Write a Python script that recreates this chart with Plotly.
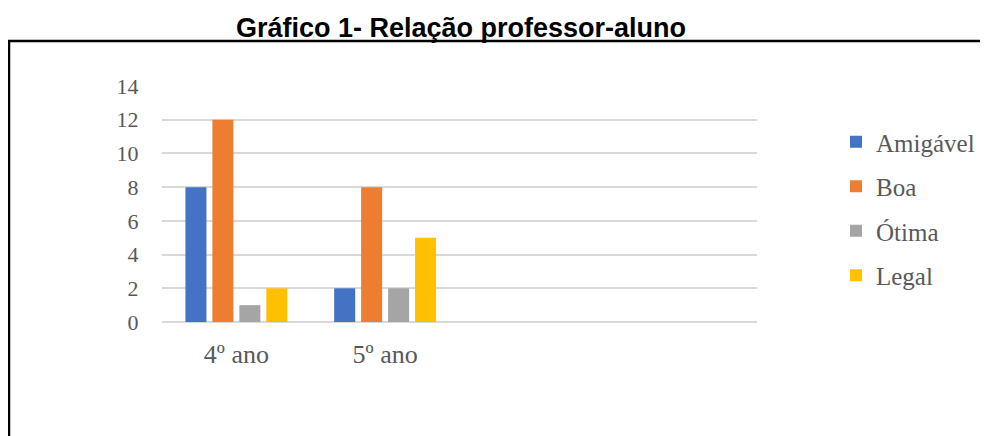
import plotly.graph_objects as go

categories = ["4º ano", "5º ano"]
series_names = ["Amigável", "Boa", "Ótima", "Legal"]
amigavel = [8, 2]
boa = [12, 8]
otima = [1, 2]
legal = [2, 5]
y_ticks = [0, 2, 4, 6, 8, 10, 12, 14]

colors = ["#4472C4", "#ED7D31", "#A5A5A5", "#FFC000"]
values = [amigavel, boa, otima, legal]

OFF = 8  # page body margin
W, H = 988 - OFF, 436 - OFF
# plot area in reference pixel coordinates
PL, PR, PT, PB = 162, 757, 86, 322
L, R, T, B = PL - OFF, 988 - PR, PT - OFF, 436 - PB
pw, ph = PR - PL, PB - PT

def px_x(x):
    return (x - PL) / pw

def px_y(y):
    return (PB - y) / ph

fig = go.Figure()
for name, vals, col in zip(series_names, values, colors):
    fig.add_trace(go.Bar(x=categories, y=vals, name=name, marker_color=col,
                         marker_line_width=0, legendgroup=name))

fig.update_layout(
    width=W, height=H,
    margin=dict(l=L, r=R, t=T, b=B, pad=0, autoexpand=False),
    paper_bgcolor="white", plot_bgcolor="white",
    barmode="group", bargap=0.275, bargroupgap=0.22,
    showlegend=True,
    legend=dict(x=px_x(836), xanchor="left", y=px_y(119), yanchor="top",
                font=dict(family="Liberation Serif", size=25, color="#595959"),
                tracegroupgap=9, itemsizing="constant", bgcolor="rgba(0,0,0,0)"),
    title=dict(text="<b>Gráfico 1- Relação professor-aluno</b>",
               x=(461 - OFF) / W, xref="container", xanchor="center",
               y=1 - (28 - OFF) / H, yref="container", yanchor="middle",
               font=dict(family="Liberation Sans", size=27, color="black")),
    xaxis=dict(type="category", range=[-0.5, 3.5], showgrid=False, zeroline=False,
               showline=False, ticks="outside", ticklen=9, tickcolor="rgba(0,0,0,0)",
               tickfont=dict(family="Liberation Serif", size=26, color="#595959")),
    yaxis=dict(range=[0, 14], tickvals=y_ticks,
               showgrid=True, gridcolor="#D9D9D9", gridwidth=2,
               zeroline=True, zerolinecolor="#D9D9D9", zerolinewidth=2,
               showline=False, ticks="outside", ticklen=18, tickcolor="rgba(0,0,0,0)",
               tickfont=dict(family="Liberation Serif", size=22, color="#595959")),
    shapes=[dict(type="rect", xref="paper", yref="paper",
                 x0=px_x(9), x1=px_x(1010), y0=px_y(460), y1=px_y(41),
                 line=dict(color="black", width=2.5), fillcolor="rgba(0,0,0,0)",
                 layer="below")],
)

fig.write_html("out.html")
